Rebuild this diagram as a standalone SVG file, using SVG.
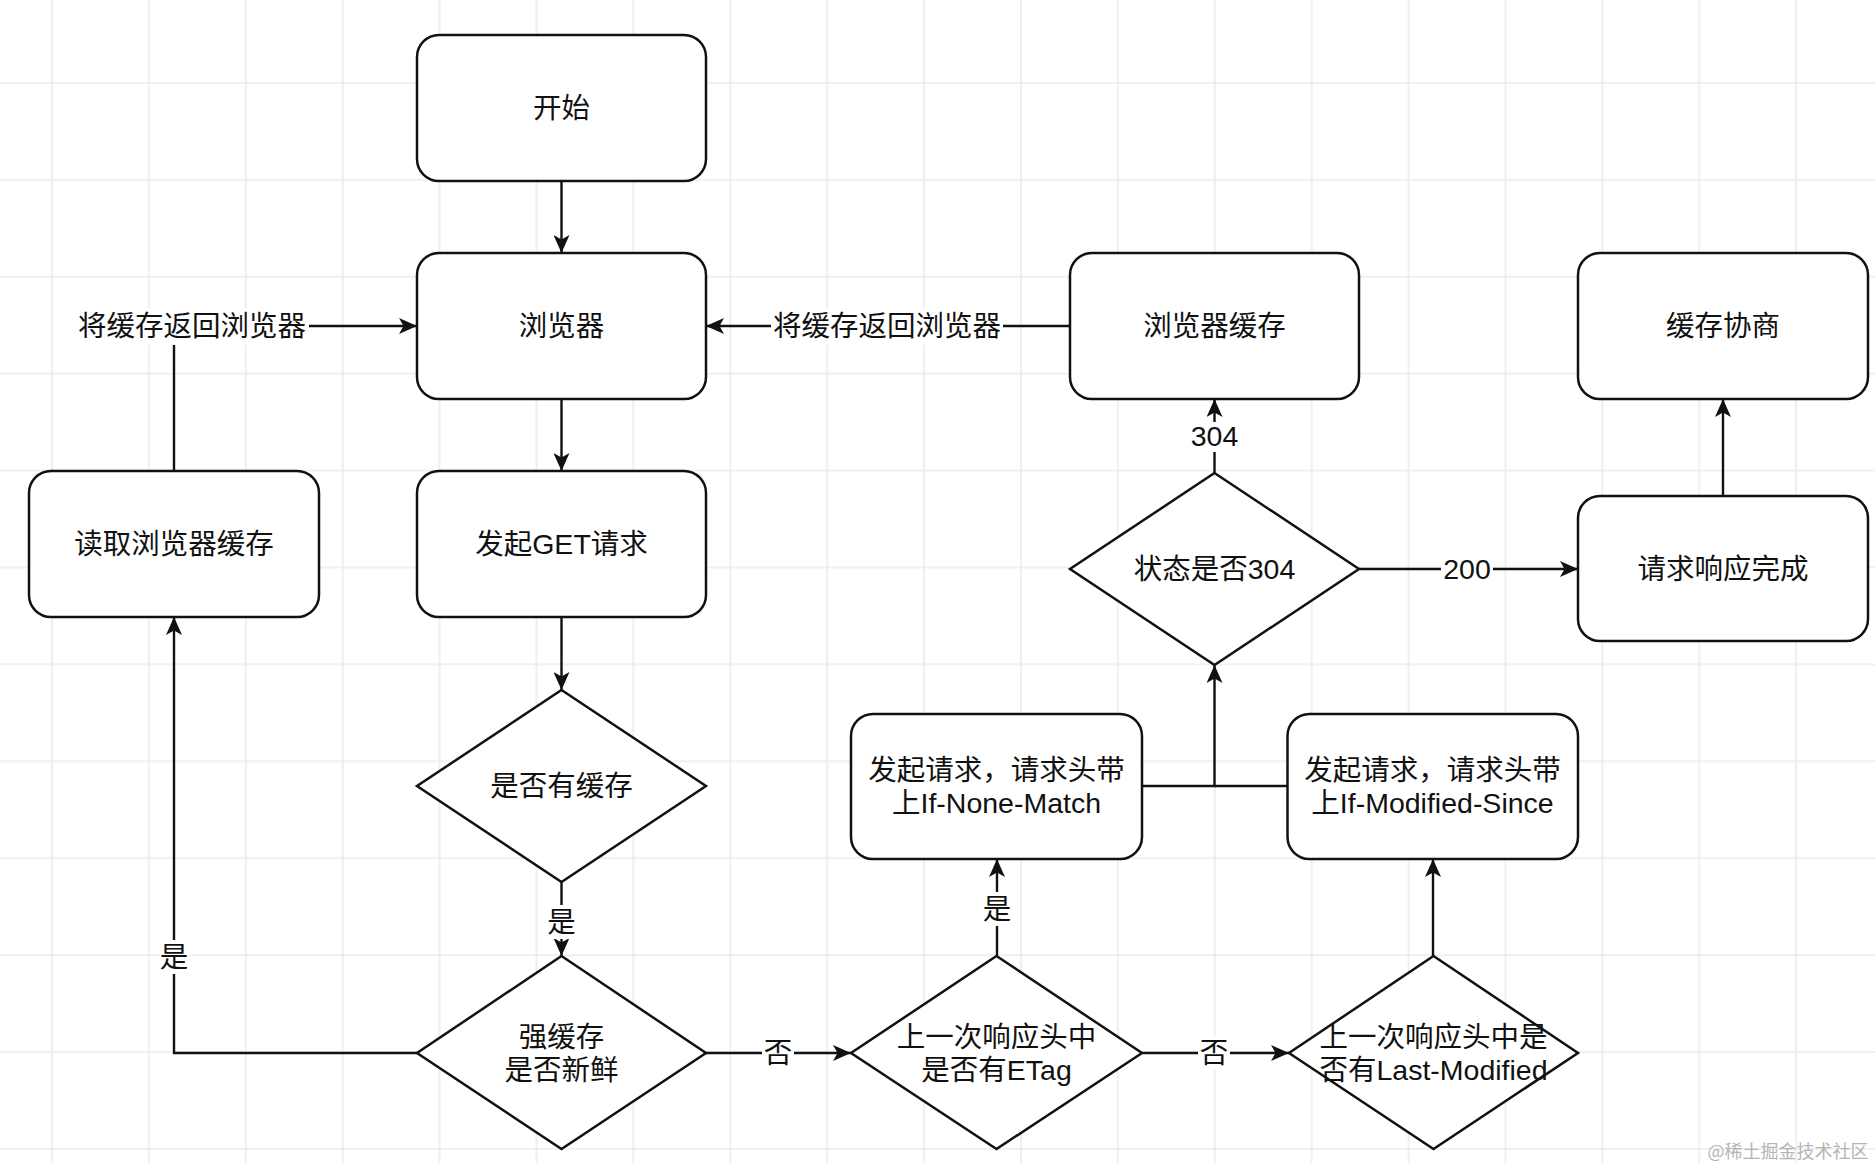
<svg xmlns="http://www.w3.org/2000/svg" width="1875" height="1163" viewBox="0 0 1875 1163">
<style>
.box{fill:#fff;stroke:#111;stroke-width:2.5}
.edge{fill:none;stroke:#111;stroke-width:2.4}
.t{font-family:"Liberation Sans","Noto Sans CJK SC",sans-serif;font-size:28.5px;fill:#111;text-anchor:middle}
.lbg{fill:#fff}
.wm{font-family:"Noto Sans CJK SC",sans-serif;font-size:18px;fill:#b5b5b5;text-anchor:middle}
</style>
<defs>
<pattern id="grid" x="4" y="35" width="96.9" height="96.9" patternUnits="userSpaceOnUse">
<path d="M48,0 V96.9 M0,48 H96.9" stroke="#ebebeb" stroke-width="1.6" fill="none"/>
</pattern>
<marker id="arr" markerWidth="18" markerHeight="16" refX="18" refY="8" orient="auto" markerUnits="userSpaceOnUse">
<path d="M0,0 L18,8 L0,16 L4.5,8 Z" fill="#111"/>
</marker>
</defs>
<rect width="1875" height="1163" fill="#fff"/>
<rect width="1875" height="1163" fill="url(#grid)"/>

<g id="connectors">
<path class="edge" d="M561.5,181 V253" marker-end="url(#arr)"/>
<path class="edge" d="M561.5,399 V471" marker-end="url(#arr)"/>
<path class="edge" d="M561.5,617 V690" marker-end="url(#arr)"/>
<path class="edge" d="M561.5,882 V956" marker-end="url(#arr)"/>
<path class="edge" d="M417,1053 H174 V617" marker-end="url(#arr)"/>
<path class="edge" d="M174,471 V326 H417" marker-end="url(#arr)"/>
<path class="edge" d="M1070,326 H706" marker-end="url(#arr)"/>
<path class="edge" d="M706,1053 H851" marker-end="url(#arr)"/>
<path class="edge" d="M997,956 V859" marker-end="url(#arr)"/>
<path class="edge" d="M1142,1053 H1289" marker-end="url(#arr)"/>
<path class="edge" d="M1433,956 V859" marker-end="url(#arr)"/>
<path class="edge" d="M1142,786 H1214.5 V665" marker-end="url(#arr)"/>
<path class="edge" d="M1287,786 H1214.5"/>
<path class="edge" d="M1214.5,473 V399" marker-end="url(#arr)"/>
<path class="edge" d="M1359,569 H1578" marker-end="url(#arr)"/>
<path class="edge" d="M1723,496 V399" marker-end="url(#arr)"/>

<rect class="lbg" x="77" y="308" width="232" height="37"/>
<text class="t" x="192" y="336">将缓存返回浏览器</text>
<rect class="lbg" x="771" y="308" width="232" height="37"/>
<text class="t" x="887" y="336">将缓存返回浏览器</text>
<rect class="lbg" x="546" y="905" width="31" height="34"/>
<text class="t" x="561.5" y="932">是</text>
<rect class="lbg" x="159" y="940" width="31" height="34"/>
<text class="t" x="174" y="967">是</text>
<rect class="lbg" x="762" y="1036" width="32" height="34"/>
<text class="t" x="778" y="1063">否</text>
<rect class="lbg" x="982" y="892" width="31" height="34"/>
<text class="t" x="997" y="919">是</text>
<rect class="lbg" x="1198" y="1036" width="32" height="34"/>
<text class="t" x="1214" y="1063">否</text>
<rect class="lbg" x="1189" y="422" width="51" height="30"/>
<text class="t" x="1214.5" y="446">304</text>
<rect class="lbg" x="1441" y="554" width="52" height="30"/>
<text class="t" x="1467" y="579">200</text>
</g>

<g id="start"><rect class="box" x="417" y="35" width="289" height="146" rx="22"/><text class="t" x="561.5" y="118">开始</text></g>
<g id="browser"><rect class="box" x="417" y="253" width="289" height="146" rx="22"/><text class="t" x="561.5" y="336">浏览器</text></g>
<g id="get"><rect class="box" x="417" y="471" width="289" height="146" rx="22"/><text class="t" x="561.5" y="554">发起GET请求</text></g>
<g id="read"><rect class="box" x="29" y="471" width="290" height="146" rx="22"/><text class="t" x="174" y="554">读取浏览器缓存</text></g>
<g id="bcache"><rect class="box" x="1070" y="253" width="289" height="146" rx="22"/><text class="t" x="1214.5" y="336">浏览器缓存</text></g>
<g id="nego"><rect class="box" x="1578" y="253" width="290" height="146" rx="22"/><text class="t" x="1723" y="336">缓存协商</text></g>
<g id="done"><rect class="box" x="1578" y="496" width="290" height="145" rx="22"/><text class="t" x="1723" y="579">请求响应完成</text></g>
<g id="inm"><rect class="box" x="851" y="714" width="291" height="145" rx="22"/><text class="t" x="996.5" y="780">发起请求，请求头带</text><text class="t" x="996.5" y="813">上If-None-Match</text></g>
<g id="ims"><rect class="box" x="1287.5" y="714" width="290.5" height="145" rx="22"/><text class="t" x="1432.5" y="780">发起请求，请求头带</text><text class="t" x="1432.5" y="813">上If-Modified-Since</text></g>

<g id="hascache"><path class="box" d="M561.5,690 L706,786 L561.5,882 L417,786 Z"/><text class="t" x="561.5" y="796">是否有缓存</text></g>
<g id="fresh"><path class="box" d="M561.5,956 L706,1053 L561.5,1149 L417,1053 Z"/><text class="t" x="561.5" y="1047">强缓存</text><text class="t" x="561.5" y="1080">是否新鲜</text></g>
<g id="etag"><path class="box" d="M996.5,956 L1142,1053 L996.5,1149 L851,1053 Z"/><text class="t" x="996.5" y="1047">上一次响应头中</text><text class="t" x="996.5" y="1080">是否有ETag</text></g>
<g id="lastmod"><path class="box" d="M1433.5,956 L1578,1053 L1433.5,1149 L1289,1053 Z"/><text class="t" x="1433.5" y="1047">上一次响应头中是</text><text class="t" x="1433.5" y="1080">否有Last-Modified</text></g>
<g id="status"><path class="box" d="M1214.5,473 L1359,569 L1214.5,665 L1070,569 Z"/><text class="t" x="1214.5" y="579">状态是否304</text></g>

<text class="wm" x="1788" y="1158">@稀土掘金技术社区</text>
</svg>
